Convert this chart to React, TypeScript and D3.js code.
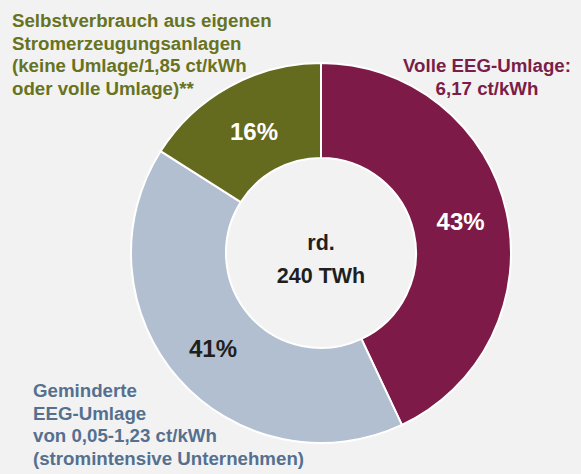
import React from "react";
import * as d3 from "d3";

const categories = ["Volle EEG-Umlage", "Geminderte EEG-Umlage", "Selbstverbrauch"];
const shares = [43, 41, 16];
const colors = ["#7d1a47", "#b1bfd0", "#646b1f"];
const pctColors = ["#ffffff", "#1f1f1f", "#ffffff"];
const centerLines = ["rd.", "240 TWh"];
const labelMaroon = ["Volle EEG-Umlage:", "6,17 ct/kWh"];
const labelBlue = ["Geminderte", "EEG-Umlage", "von 0,05-1,23 ct/kWh", "(stromintensive Unternehmen)"];
const labelOlive = ["Selbstverbrauch aus eigenen", "Stromerzeugungsanlagen", "(keine Umlage/1,85 ct/kWh", "oder volle Umlage)**"];

export default function App() {
  const W = 581, H = 474;
  const cx = 321, cy = 253, rOuter = 190, rInner = 95;
  const pie = d3.pie<number>().sort(null).value((d) => d)(shares);
  const arc = d3.arc<d3.PieArcDatum<number>>().innerRadius(rInner).outerRadius(rOuter);
  const labelR = [143, 144, 139];
  const font = "'Liberation Sans', Arial, sans-serif";
  const fs = 18.7;
  return (
    <svg width={W} height={H} style={{ position: "absolute", left: 0, top: 0, background: "#f2f2f2" }}>
      <rect x={0} y={0} width={W} height={H} fill="#f2f2f2" />
      <g transform={`translate(${cx},${cy})`}>
        {pie.map((p, i) => (
          <path key={categories[i]} d={arc(p) || ""} fill={colors[i]} stroke="#ffffff" strokeWidth={2} />
        ))}
        {pie.map((p, i) => {
          const a = (p.startAngle + p.endAngle) / 2;
          const x = Math.sin(a) * labelR[i];
          const y = -Math.cos(a) * labelR[i];
          return (
            <text key={"p" + i} x={x} y={y} dy="0.36em" textAnchor="middle" fill={pctColors[i]}
              fontFamily={font} fontWeight="bold" fontSize={24}>
              {shares[i]}%
            </text>
          );
        })}
        {centerLines.map((t, i) => (
          <text key={"c" + i} x={0} y={-3 + i * 33} textAnchor="middle" fill="#1f1f1f"
            fontFamily={font} fontWeight="bold" fontSize={21.5}>
            {t}
          </text>
        ))}
      </g>
      {labelOlive.map((t, i) => (
        <text key={"o" + i} x={12} y={27 + i * 22.5} fill="#68731f" fontFamily={font} fontWeight="bold" fontSize={fs}>{t}</text>
      ))}
      {labelMaroon.map((t, i) => (
        <text key={"m" + i} x={487} y={72 + i * 23} textAnchor="middle" fill="#7a1d48" fontFamily={font} fontWeight="bold" fontSize={fs}>{t}</text>
      ))}
      {labelBlue.map((t, i) => (
        <text key={"b" + i} x={33} y={397 + i * 22.7} fill="#55708f" fontFamily={font} fontWeight="bold" fontSize={fs}>{t}</text>
      ))}
    </svg>
  );
}
